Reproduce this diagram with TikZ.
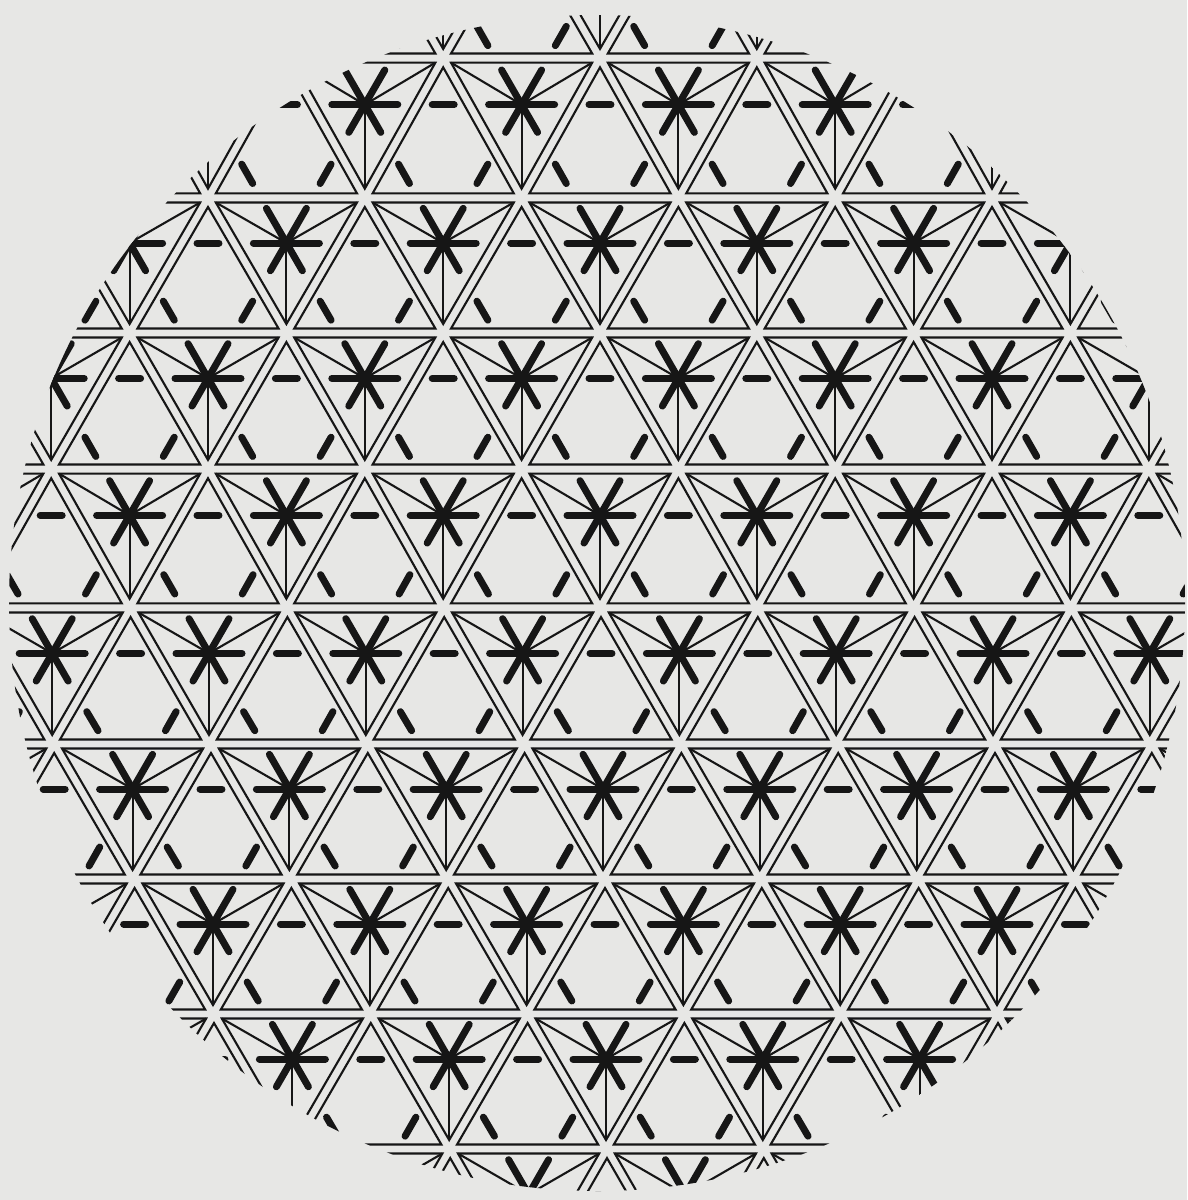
\documentclass[tikz,border=0pt]{standalone}
\usetikzlibrary{calc}
\definecolor{paper}{RGB}{231,231,229}
\definecolor{ink}{RGB}{22,22,22}
\begin{document}
\begin{tikzpicture}[x=1pt,y=-1pt,
  thinl/.style={draw=ink,line width=2.1pt,line join=miter},
  bar/.style={draw=ink,line width=7pt,line cap=round}]
\fill[paper] (0,0) rectangle (1187,1200);
\useasboundingbox (0,0) rectangle (1187,1200);
\begin{scope}
\clip (597,603) circle [radius=588];
\foreach \j in {-5,...,5} {
  \foreach \k in {-5,...,5} {
    \pgfmathsetmacro{\yt}{{-78,58,198,333,469,608,744,879,1014,1149,1285,1420,1555}[\j+5]}
    \pgfmathsetmacro{\yb}{{-78,58,198,333,469,608,744,879,1014,1149,1285,1420,1555}[\j+6]}
    \pgfmathsetmacro{\yn}{{-78,58,198,333,469,608,744,879,1014,1149,1285,1420,1555}[\j+7]}
    \pgfmathsetmacro{\sh}{{0,0,0,0,0,1,3,5,6,7,7,7,7}[\j+5]}
    \pgfmathsetmacro{\shn}{{0,0,0,0,0,1,3,5,6,7,7,7,7}[\j+6]}
    \pgfmathsetmacro{\hh}{\yb-\yt}
    \pgfmathsetmacro{\hn}{\yn-\yb}
    \pgfmathsetmacro{\xc}{600+\k*156.8+abs(mod(\j,2))*78.4+\sh}
    % star cell (down triangle)
    \pgfmathsetmacro{\gx}{\xc+78.4}
    \pgfmathsetmacro{\gy}{\yt+\hh/3}
    \pgfmathsetmacro{\ya}{\gy-0.3*\hh}
    \pgfmathsetmacro{\yc}{\gy+0.6*\hh}
    \draw[thinl] ({\gx-70.56},\ya) -- ({\gx+70.56},\ya) -- (\gx,\yc) -- cycle;
    \draw[thinl] ({\gx-70.56},\ya) -- (\gx,\gy) -- ({\gx+70.56},\ya);
    \draw[thinl] (\gx,\gy) -- (\gx,\yc);
    % dash cell (up triangle), apex at vertex xc
    \pgfmathsetmacro{\gyu}{\yt+2*\hh/3}
    \pgfmathsetmacro{\yup}{\gyu-0.6*\hh}
    \pgfmathsetmacro{\ybs}{\gyu+0.3*\hh}
    \draw[thinl] (\xc,\yup) -- ({\xc+70.56},\ybs) -- ({\xc-70.56},\ybs) -- cycle;
    % star bars
    \draw[bar] ({\gx-33},\gy) -- ({\gx+33},\gy);
    \draw[bar] ({\gx+0.5*40},{\gy-0.866*40}) -- ({\gx-0.5*32},{\gy+0.866*32});
    \draw[bar] ({\gx-0.5*40},{\gy-0.866*40}) -- ({\gx+0.5*32},{\gy+0.866*32});
    % dashes midway to neighbouring stars
    \pgfmathsetmacro{\gyn}{\yb+\hn/3}
    \pgfmathsetmacro{\gxr}{\gx+78.4+\shn-\sh}
    \pgfmathsetmacro{\gxl}{\gx-78.4+\shn-\sh}
    \draw[bar] ($(\gx,\gy)!0.43!({\gx+156.8},\gy)$) -- ($(\gx,\gy)!0.57!({\gx+156.8},\gy)$);
    \draw[bar] ($(\gx,\gy)!0.43!(\gxr,\gyn)$) -- ($(\gx,\gy)!0.57!(\gxr,\gyn)$);
    \draw[bar] ($(\gx,\gy)!0.43!(\gxl,\gyn)$) -- ($(\gx,\gy)!0.57!(\gxl,\gyn)$);
  }
}
\end{scope}
\end{tikzpicture}
\end{document}
